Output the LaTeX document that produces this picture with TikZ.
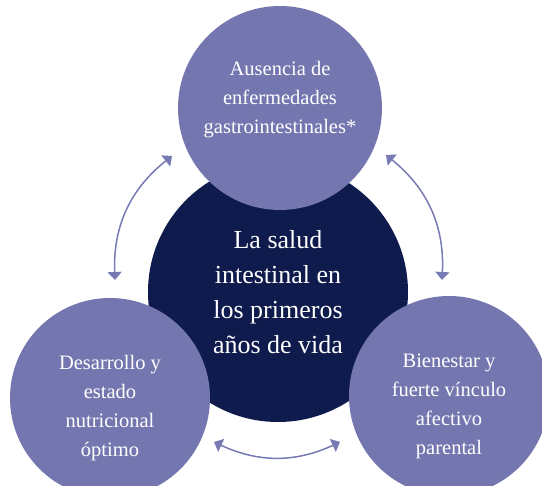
\documentclass[tikz,border=0pt]{standalone}
\usepackage{fontspec}
\setmainfont{Liberation Serif}
\usetikzlibrary{arrows.meta}
\definecolor{navy}{RGB}{14,27,76}
\definecolor{lilac}{RGB}{116,118,175}
\definecolor{arrowc}{RGB}{120,122,180}
\tikzset{
  hub/.style={circle,fill=navy,minimum size=260pt,inner sep=0pt},
  sat/.style={circle,fill=lilac,minimum size=#1,inner sep=0pt},
  hubtxt/.style={text=white,align=center,font=\fontsize{26}{35}\selectfont},
  sattxt/.style={text=white,align=center,font=\fontsize{20.5}{29}\selectfont},
  link/.style={{Triangle[width=14pt,length=8pt]}-{Triangle[width=14pt,length=8pt]},line width=1.5pt,arrowc},
}

\begin{document}
\begin{tikzpicture}[x=1pt,y=-1pt]
\clip (0,0) rectangle (542,486);
% circles
\node[hub] (H) at (278,292) {};
\node[sat=204pt] (T) at (280,108) {};
\node[sat=200pt] (L) at (110,398) {};
\node[sat=200pt] (R) at (449,396) {};

% texts
\node[hubtxt] (Ht) at (H.center) {La salud\\intestinal en\\los primeros\\años de vida};
\node[sattxt] (Tt) at ([yshift=8pt]T.center) {Ausencia de\\enfermedades\\gastrointestinales*};
\node[sattxt] (Lt) at ([yshift=-10pt]L.center) {Desarrollo y\\estado\\nutricional\\óptimo};
\node[sattxt] (Rt) at ([yshift=-10pt]R.center) {Bienestar y\\fuerte vínculo\\afectivo\\parental};

% arrow ends
\coordinate (a1) at (115,280);
\coordinate (a2) at (172,156);
\coordinate (b1) at (386,155);
\coordinate (b2) at (442,280);
\coordinate (c1) at (214,442);
\coordinate (c2) at (340,442);

\draw[link] (a1) to[bend left=27] (a2);
\draw[link] (b1) to[bend left=27] (b2);
\draw[link] (c1) to[bend right=25] (c2);
\end{tikzpicture}
\end{document}
